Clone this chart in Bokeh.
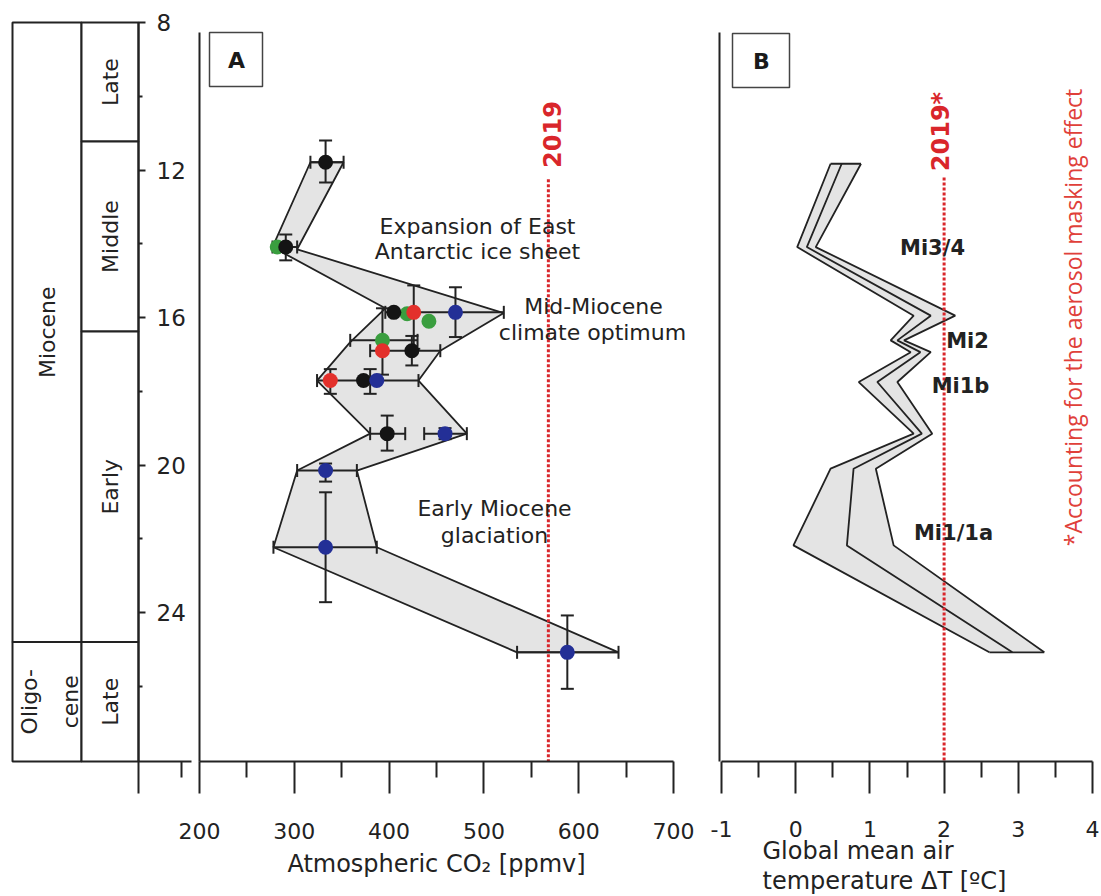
import math
from bokeh.plotting import figure
from bokeh.models import Range1d, LinearAxis, FixedTicker
from bokeh.core.properties import value
from bokeh.embed import file_html
from bokeh.resources import INLINE

# ------------------------------------------------------------------ data
AGE_TICKS = [8, 12, 16, 20, 24]
AGE_MINOR = [10, 14, 18, 22, 26]
CO2_TICKS = [200, 300, 400, 500, 600, 700]
CO2_MINOR = [250, 350, 450, 550, 650]
DT_TICKS = [-1, 0, 1, 2, 3, 4]
DT_MINOR = [-0.5, 0.5, 1.5, 2.5, 3.5]

epoch_names = ["Miocene", "Oligo-", "cene"]
epoch_top = [8.0, 24.8]
epoch_bottom = [24.8, 28.04]
stage_names = ["Late", "Middle", "Early", "Late"]
stage_top = [8.0, 11.23, 16.38, 24.8]
stage_bottom = [11.23, 16.38, 24.8, 28.04]

# Panel A: CO2 envelope (ppmv vs age Ma)
env_left_co2 = [317, 277, 396, 359, 324, 380, 303, 278, 535]
env_left_age = [11.79, 14.09, 15.75, 16.67, 17.71, 19.15, 20.15, 22.23, 25.08]
env_right_co2 = [352, 303, 521, 454, 431, 482, 366, 387, 642]
env_right_age = [11.79, 14.15, 15.88, 16.90, 17.71, 19.15, 20.15, 22.23, 25.08]

# Panel A: proxy points
green_co2 = [282, 419, 442, 393]
green_age = [14.09, 15.90, 16.10, 16.62]
black_co2 = [333, 291, 405, 424, 373, 398]
black_age = [11.79, 14.09, 15.86, 16.90, 17.71, 19.15]
red_co2 = [426, 393, 338]
red_age = [15.86, 16.90, 17.71]
blue_co2 = [470, 387, 459, 333, 333, 588]
blue_age = [15.86, 17.71, 19.15, 20.15, 22.23, 25.08]

# Panel A: error bars
xerr_age = [11.79, 14.09, 15.86, 16.62, 16.90, 17.71, 19.15, 19.15, 20.15, 22.23, 25.08]
xerr_lo = [317, 277, 396, 359, 380, 324, 380, 437, 303, 278, 535]
xerr_hi = [352, 303, 521, 430, 454, 431, 417, 482, 366, 387, 642]
yerr_co2 = [333, 291, 426, 470, 424, 393, 338, 380, 398, 459, 333, 333, 588]
yerr_lo = [11.20, 13.75, 15.13, 15.18, 16.50, 15.75, 17.40, 17.40, 18.66, 19.00, 19.96, 20.74, 24.08]
yerr_hi = [12.34, 14.45, 16.85, 16.53, 17.30, 17.55, 18.07, 18.07, 19.61, 19.30, 20.45, 23.72, 26.07]

co2_2019 = 568

# Panel B: temperature envelope (deg C vs age Ma)
dt_age = [11.83, 14.09, 15.95, 16.62, 16.94, 17.75, 19.15, 20.10, 22.18, 25.08]
dt_left = [0.47, 0.02, 1.59, 1.28, 1.55, 0.85, 1.59, 0.47, -0.03, 2.61]
dt_mid = [0.62, 0.15, 1.82, 1.37, 1.68, 1.10, 1.70, 0.78, 0.69, 2.92]
dt_right = [0.88, 0.27, 2.15, 1.46, 1.82, 1.37, 1.84, 1.08, 1.32, 3.35]
dt_2019 = 2.0

# ------------------------------------------------------------------ layout
CW, CH = 1101, 896
PX0, PX1 = 0, CW
PY0, PY1 = 0, CH


def span(v0, p0, v1, p1, q0, q1):
    s = (v1 - v0) / (p1 - p0)
    return v0 + (q0 - p0) * s, v0 + (q1 - p0) * s


co2_s, co2_e = span(200, 199, 700, 673, PX0, PX1)
dt_s, dt_e = span(-1, 721, 4, 1092, PX0, PX1)
age_top, age_bot = span(8, 22, 24, 612, PY0, PY1)

p = figure(width=CW, height=CH, output_backend="svg", toolbar_location=None,
           x_range=Range1d(PX0, PX1), y_range=Range1d(age_bot, age_top),
           x_axis_location=None, y_axis_location=None, min_border=0,
           outline_line_color=None, background_fill_color="white")
p.extra_x_ranges = {"co2": Range1d(co2_s, co2_e), "dT": Range1d(dt_s, dt_e)}
p.extra_y_ranges = {"py": Range1d(PY1, PY0)}
p.grid.visible = False

FONT = value("DejaVu Sans")
INK = "#222222"
RED = "#d9262b"
AX_BOTTOM = 28.04


def style_axis(ax, font_size="22px"):
    ax.axis_line_color = INK
    ax.axis_line_width = 2
    ax.major_tick_line_color = INK
    ax.major_tick_line_width = 2
    ax.minor_tick_line_color = INK
    ax.minor_tick_line_width = 2
    ax.major_tick_in = 0
    ax.minor_tick_in = 0
    ax.major_label_text_font = "DejaVu Sans"
    ax.major_label_text_font_size = font_size
    ax.major_label_text_color = INK
    ax.axis_label_text_font = "DejaVu Sans"
    ax.axis_label_text_font_style = "normal"
    ax.axis_label_text_color = INK


# stratigraphic column
COL = [12, 81, 138]
p.quad(left=[COL[0]] * len(epoch_top), right=[COL[1]] * len(epoch_top),
       top=epoch_top, bottom=epoch_bottom, fill_color="white",
       line_color=INK, line_width=2)
p.quad(left=[COL[1]] * len(stage_names), right=[COL[2]] * len(stage_names),
       top=stage_top, bottom=stage_bottom, fill_color="white",
       line_color=INK, line_width=2)
mio_mid = (epoch_top[0] + epoch_bottom[0]) / 2
oli_mid = (epoch_top[1] + epoch_bottom[1]) / 2
p.text(x=[(COL[0] + COL[1]) / 2, 29, 70], y=[mio_mid, oli_mid, oli_mid],
       text=epoch_names, angle=math.pi / 2, text_align="center",
       text_baseline="middle", text_font=FONT, text_font_size="22px",
       text_color=INK)
p.text(x=[(COL[1] + COL[2]) / 2] * len(stage_names),
       y=[(a + b) / 2 for a, b in zip(stage_top, stage_bottom)],
       text=stage_names, angle=math.pi / 2, text_align="center",
       text_baseline="middle", text_font=FONT, text_font_size="22px",
       text_color=INK)

# age axis (labels to the right of the column)
ax_age = LinearAxis(fixed_location=COL[2], bounds=(8, AX_BOTTOM),
                    ticker=FixedTicker(ticks=AGE_TICKS, minor_ticks=AGE_MINOR))
style_axis(ax_age, "23px")
ax_age.major_tick_out = 7
ax_age.minor_tick_out = 4
ax_age.major_label_standoff = 11
p.add_layout(ax_age, "right")

# short base stub under the age axis
ax_stub = LinearAxis(fixed_location=AX_BOTTOM, bounds=(COL[2], 191),
                     ticker=FixedTicker(ticks=[COL[2]], minor_ticks=[181]),
                     major_label_overrides={COL[2]: ""})
style_axis(ax_stub)
ax_stub.major_tick_out = 32
ax_stub.minor_tick_out = 16
p.add_layout(ax_stub, "below")

# panel A axes
ax_a = LinearAxis(x_range_name="co2", fixed_location=AX_BOTTOM, bounds=(200, 700),
                  ticker=FixedTicker(ticks=CO2_TICKS, minor_ticks=CO2_MINOR),
                  axis_label="Atmospheric CO\u2082 [ppmv]")
style_axis(ax_a)
ax_a.major_tick_out = 32
ax_a.minor_tick_out = 16
ax_a.major_label_standoff = 30
ax_a.axis_label_standoff = 7
ax_a.axis_label_text_font_size = "24px"
p.add_layout(ax_a, "below")

ax_a_v = LinearAxis(x_range_name="co2", fixed_location=200, bounds=(8.27, AX_BOTTOM),
                    ticker=FixedTicker(ticks=[]))
style_axis(ax_a_v)
p.add_layout(ax_a_v, "left")

# panel B axes
ax_b = LinearAxis(x_range_name="dT", fixed_location=AX_BOTTOM, bounds=(-1, 4),
                  ticker=FixedTicker(ticks=DT_TICKS, minor_ticks=DT_MINOR),
                  major_label_overrides={-1: "-1"})
style_axis(ax_b)
ax_b.major_tick_out = 32
ax_b.minor_tick_out = 16
ax_b.major_label_standoff = 28
p.add_layout(ax_b, "below")

ax_b_v = LinearAxis(x_range_name="dT", fixed_location=-1.03, bounds=(8.27, AX_BOTTOM),
                    ticker=FixedTicker(ticks=[]))
style_axis(ax_b_v)
p.add_layout(ax_b_v, "left")

# ---------------- panel A content
p.patch(x=env_left_co2 + env_right_co2[::-1], y=env_left_age + env_right_age[::-1],
        x_range_name="co2", fill_color="#e4e4e4", line_color=INK, line_width=1.8)
p.segment(x0=[co2_2019], y0=[12.25], x1=[co2_2019], y1=[AX_BOTTOM], x_range_name="co2",
          line_color=RED, line_width=3, line_dash="3 2")

p.segment(x0=xerr_lo, y0=xerr_age, x1=xerr_hi, y1=xerr_age, x_range_name="co2",
          line_color=INK, line_width=2)
p.scatter(x=xerr_lo + xerr_hi, y=xerr_age + xerr_age, marker="dash", size=13,
          angle=math.pi / 2, x_range_name="co2", line_color=INK, line_width=2)
p.segment(x0=yerr_co2, y0=yerr_lo, x1=yerr_co2, y1=yerr_hi, x_range_name="co2",
          line_color=INK, line_width=2)
p.scatter(x=yerr_co2 + yerr_co2, y=yerr_lo + yerr_hi, marker="dash", size=13,
          x_range_name="co2", line_color=INK, line_width=2)

p.scatter(x=green_co2, y=green_age, size=15, x_range_name="co2",
          fill_color="#3a9e3f", line_color=None)
p.scatter(x=black_co2, y=black_age, size=15, x_range_name="co2",
          fill_color="#141414", line_color=None)
p.scatter(x=red_co2, y=red_age, size=15, x_range_name="co2",
          fill_color="#e3302b", line_color=None)
p.scatter(x=blue_co2, y=blue_age, size=15, x_range_name="co2",
          fill_color="#232f96", line_color=None)

# ---------------- panel B content
p.patch(x=dt_left + dt_right[::-1], y=dt_age + dt_age[::-1], x_range_name="dT",
        fill_color="#e4e4e4", line_color=None)
for series in (dt_left, dt_mid, dt_right):
    p.line(x=series, y=dt_age, x_range_name="dT", line_color=INK, line_width=1.8)
p.segment(x0=[dt_left[0], dt_left[-1]], y0=[dt_age[0], dt_age[-1]],
          x1=[dt_right[0], dt_right[-1]], y1=[dt_age[0], dt_age[-1]],
          x_range_name="dT", line_color=INK, line_width=1.8)
p.segment(x0=[dt_2019], y0=[12.2], x1=[dt_2019], y1=[AX_BOTTOM], x_range_name="dT",
          line_color=RED, line_width=3, line_dash="3 2")

# ---------------- panel boxes and annotations (page-pixel layout positions)
p.quad(left=[209, 732], right=[262, 789], top=[32, 33], bottom=[86, 87],
       y_range_name="py", fill_color="white", line_color="#444444", line_width=1.5)
p.text(x=[236, 761], y=[60, 61], text=["A", "B"], y_range_name="py",
       text_align="center", text_baseline="middle", text_font=FONT,
       text_font_style="bold", text_font_size="22px", text_color="#1a1a1a")

note_text = ["Expansion of East", "Antarctic ice sheet", "Mid-Miocene",
             "climate optimum", "Early Miocene", "glaciation"]
note_x = [477, 477, 593, 592, 494, 494]
note_y = [226, 251, 306, 332, 508, 535]
p.text(x=note_x, y=note_y, text=note_text, y_range_name="py", text_align="center",
       text_baseline="middle", text_font=FONT, text_font_size="22px",
       text_color=INK)

mi_text = ["Mi3/4", "Mi2", "Mi1b", "Mi1/1a"]
mi_x = [932, 967, 960, 953]
mi_y = [247, 340, 385, 532]
p.text(x=mi_x, y=mi_y, text=mi_text, y_range_name="py", text_align="center",
       text_baseline="middle", text_font=FONT, text_font_style="bold",
       text_font_size="21px", text_color=INK)

p.text(x=[551, 940], y=[134, 131], text=["2019", "2019*"], y_range_name="py",
       angle=math.pi / 2, text_align="center", text_baseline="middle",
       text_font=FONT, text_font_style="bold", text_font_size="24px",
       text_color=RED)
p.text(x=[1072], y=[317], text=["*Accounting for the aerosol masking effect"],
       y_range_name="py", angle=math.pi / 2, text_align="center",
       text_baseline="middle", text_font=value("Open Sans"),
       text_font_size="23px", text_color="#e0403a")

p.text(x=[762, 762], y=[850, 880], text=["Global mean air", "temperature \u0394T [\u00baC]"],
       y_range_name="py", text_align="left", text_baseline="middle",
       text_font=FONT, text_font_size="24px", text_color=INK)

open("out.html", "w").write(file_html(p, INLINE))
